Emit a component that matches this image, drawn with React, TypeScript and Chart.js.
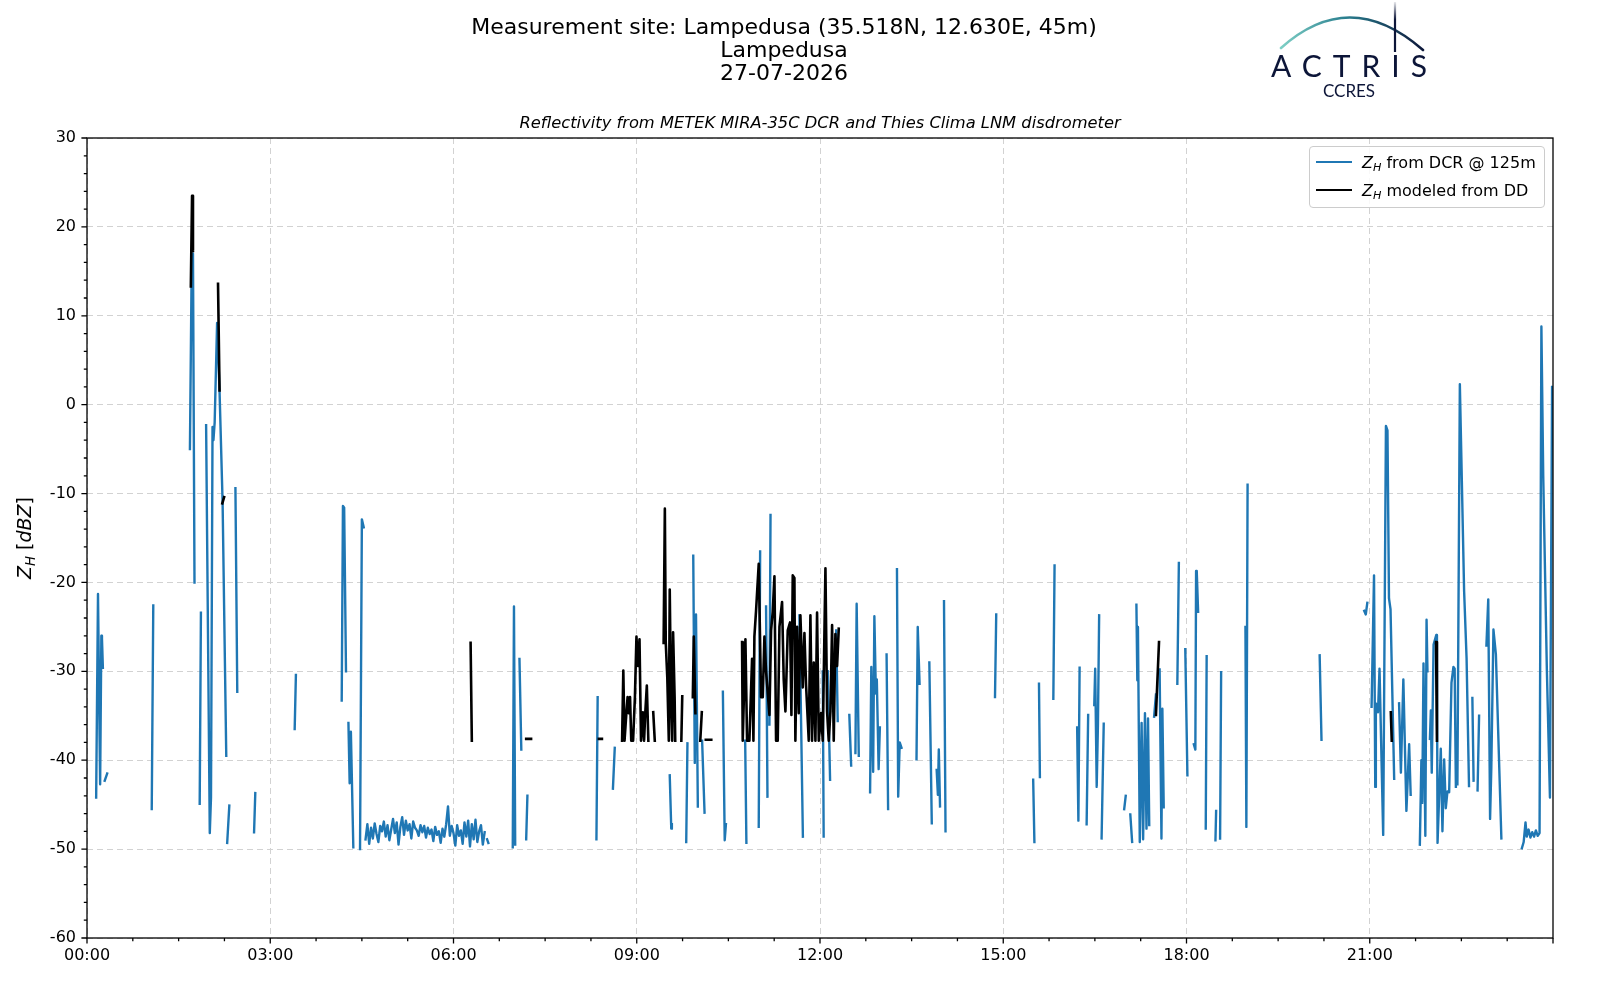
import React, { useEffect, useRef } from "react";
import { Chart, registerables } from "chart.js";

Chart.register(...registerables);

// ---------------- text ----------------
const titleLines = ["Measurement site: Lampedusa (35.518N, 12.630E, 45m)", "Lampedusa", "27-07-2026"];
const subtitle = "Reflectivity from METEK MIRA-35C DCR and Thies Clima LNM disdrometer";
const legendLabels = ["from DCR @ 125m", "modeled from DD"];
const seriesColors = ["#1f77b4", "#000000"];

// ---------------- axes ----------------
const xMin = 0;
const xMax = 24;
const xMajorStep = 3;
const xMinorStep = 0.75;
const yMin = -60;
const yMax = 30;
const yMajorStep = 10;
const yMinorStep = 2;

// ---------------- data: [hour of day, Z_H dBZ], null = gap ----------------
type Sample = [number, number] | null;

const dcrSamples: Sample[] = [
  [0.15, -44.2], [0.18, -21.3], [0.215, -42.7], [0.235, -26], [0.245, -26.3], [0.26, -29.6], null,
  [0.29, -42.3], [0.33, -41.5], null,
  [1.06, -45.5], [1.085, -22.6], null,
  [1.685, -5], [1.71, 13], [1.735, 17], [1.76, -20], null,
  [1.845, -44.9], [1.865, -23.4], null,
  [1.95, -2.3], [2.01, -48.2], [2.03, -44.2], [2.055, -2.5], [2.07, -4], [2.09, -2], [2.13, 9.2], [2.17, 1.5], [2.22, -11], [2.28, -39.5], null,
  [2.295, -49.3], [2.33, -45.1], null,
  [2.43, -9.4], [2.46, -32.3], null,
  [2.735, -48.1], [2.755, -43.7], null,
  [3.4, -36.5], [3.42, -30.4], null,
  [4.17, -33.3], [4.19, -11.4], [4.21, -11.6], [4.24, -30], null,
  [4.28, -35.8], [4.3, -42.6], [4.32, -36.8], [4.36, -49.8], null,
  [4.47, -50], [4.5, -12.9], [4.53, -13.8], null,
  [4.56, -48.9], [4.59, -47.2], [4.62, -49.4], [4.65, -47.6], [4.68, -48.8], [4.71, -47.1], [4.74, -48.3], [4.77, -49.2],
  [4.8, -47.4], [4.83, -48.0], [4.86, -46.9], [4.89, -48.6], [4.92, -47.3], [4.95, -49.0], [4.98, -47.8], [5.01, -46.6],
  [5.04, -48.2], [5.07, -47.0], [5.1, -49.5], [5.13, -47.5], [5.16, -46.4], [5.19, -48.4], [5.22, -46.8], [5.25, -47.9],
  [5.28, -47.2], [5.31, -48.8], [5.34, -46.9], [5.37, -47.6], [5.4, -47.9], [5.43, -48.5], [5.46, -47.3], [5.49, -48.1],
  [5.52, -47.4], [5.55, -48.7], [5.58, -47.6], [5.61, -48.3], [5.64, -47.8], [5.67, -49.1], [5.7, -47.5], [5.73, -48.4],
  [5.76, -48.0], [5.79, -49.3], [5.82, -47.7], [5.85, -48.6], [5.88, -47.2], [5.91, -45.2], [5.94, -48.5], [5.97, -47.4],
  [6.0, -48.2], [6.03, -49.6], [6.06, -47.3], [6.09, -48.5], [6.12, -47.9], [6.15, -49.4], [6.18, -47.0], [6.21, -48.6],
  [6.24, -46.8], [6.27, -49.7], [6.3, -47.2], [6.33, -48.9], [6.36, -46.7], [6.39, -49.2], [6.42, -48.0], [6.45, -47.3],
  [6.48, -49.5], [6.51, -48.1], null,
  [6.55, -48.9], [6.57, -49.3], null,
  [6.97, -49.8], [6.99, -22.7], [7.01, -49.5], null,
  [7.08, -28.6], [7.11, -38.8], null,
  [7.19, -48.9], [7.21, -44], null,
  [8.34, -48.9], [8.36, -32.9], null,
  [8.61, -43.2], [8.64, -38.6], null,
  [9.54, -41.7], [9.565, -47.7], [9.575, -47.2], null,
  [9.81, -49.2], [9.83, -38.1], null,
  [9.925, -17], [9.95, -40.3], [9.97, -23.6], [10.0, -45.2], null,
  [10.07, -37.8], [10.11, -45.9], null,
  [10.41, -32.3], [10.44, -49], [10.46, -47.2], null,
  [10.775, -37.8], [10.795, -49.3], null,
  [10.997, -47.5], [11.02, -16.5], null,
  [11.117, -22.7], [11.14, -44.1], null,
  [11.172, -36], [11.19, -12.4], null,
  [11.663, -23.7], [11.72, -48.6], null,
  [12.045, -30], [12.06, -48.6], null,
  [12.127, -30], [12.165, -42.2], null,
  [12.265, -25.4], [12.29, -35.6], null,
  [12.48, -34.9], [12.51, -40.6], null,
  [12.58, -39.2], [12.6, -22.4], [12.635, -39.5], null,
  [12.82, -43.6], [12.84, -29.5], [12.87, -41.3], [12.89, -23.8], [12.915, -32.5], [12.93, -30.9], [12.96, -41], [12.98, -36.3], null,
  [13.09, -28.1], [13.115, -45.5], null,
  [13.26, -18.5], [13.28, -44.1], [13.305, -38], [13.335, -38.6], null,
  [13.58, -39.9], [13.6, -25], [13.63, -31.4], null,
  [13.79, -29], [13.83, -47.1], null,
  [13.91, -41.1], [13.93, -43.9], [13.945, -38.8], [13.965, -45.2], null,
  [14.03, -22.1], [14.055, -48], null,
  [14.865, -32.9], [14.885, -23.6], null,
  [15.49, -42.2], [15.51, -49.2], null,
  [15.585, -31.4], [15.6, -41.9], null,
  [15.82, -33.1], [15.84, -18.1], null,
  [16.21, -36.3], [16.23, -46.8], [16.25, -29.6], null,
  [16.365, -47.2], [16.39, -34.9], null,
  [16.49, -33.8], [16.505, -29.7], [16.53, -43], [16.55, -36], [16.57, -23.7], null,
  [16.61, -48.8], [16.645, -35.9], null,
  [16.98, -45.5], [17.005, -44], null,
  [17.08, -46.1], [17.11, -49.2], null,
  [17.18, -22.5], [17.195, -31], [17.205, -25], [17.235, -49.2], [17.265, -35.8], [17.29, -48.9], [17.32, -34.7], [17.345, -47.7], [17.37, -35.3], [17.39, -47.3], null,
  [17.47, -35.1], [17.5, -32.6], null,
  [17.56, -29.8], [17.59, -48.8], [17.605, -34.2], [17.627, -45.3], null,
  [17.85, -31.4], [17.875, -17.8], null,
  [17.98, -27.5], [18.015, -41.7], null,
  [18.12, -38.2], [18.145, -38.8], [18.157, -18.7], [18.168, -18.8], [18.19, -23.3], null,
  [18.315, -47.7], [18.33, -28.3], null,
  [18.474, -49], [18.485, -45.7], null,
  [18.55, -48.8], [18.567, -30.1], null,
  [18.965, -25], [18.98, -47.5], [19.0, -9], null,
  [20.18, -28.2], [20.21, -37.7], null,
  [20.91, -23.2], [20.935, -23.6], [20.96, -22.3], null,
  [21.03, -34], [21.07, -19.2], [21.09, -43], [21.1, -33.6], [21.135, -34.6], [21.16, -29.7], [21.22, -48.4], [21.265, -2.4], [21.29, -2.9], [21.315, -21.8], [21.34, -23], [21.4, -42.1], null,
  [21.48, -33.6], [21.51, -41.4], [21.55, -30.9], [21.6, -45.7], [21.645, -38.2], [21.67, -43.9], null,
  [21.82, -49.5], [21.845, -40], [21.86, -44.8], [21.88, -29.1], [21.91, -48.5], [21.93, -24.2], [21.945, -30], null,
  [21.985, -37.6], [22.0, -34.4], [22.015, -41.4], [22.045, -27], [22.09, -25.9], [22.1, -28.7], [22.11, -49.3], [22.163, -38.7], [22.19, -48],
  [22.218, -39.9], [22.245, -45.4], [22.272, -43.5], [22.3, -43.6], [22.338, -31.3], [22.37, -29.5], [22.39, -29.7], [22.41, -43], null,
  [22.435, -42.7], [22.475, 2.3], [22.545, -21], [22.585, -28.5], [22.625, -42.9], null,
  [22.68, -33], [22.7, -42.3], null,
  [22.765, -43.4], [22.79, -35], null,
  [22.91, -27.1], [22.94, -21.9], [22.97, -46.6], [22.99, -40.9], [23.025, -25.3], [23.065, -28.1], [23.155, -48.8], null,
  [23.49, -49.9], [23.52, -49.2], [23.55, -47], [23.57, -48.6], [23.6, -47.8], [23.63, -48.7], [23.66, -48.1], [23.69, -48.6],
  [23.72, -47.9], [23.75, -48.5], [23.78, -48.2], [23.81, 8.8], [23.84, -8], [23.9, -30], [23.95, -44.2], [23.985, 2],
];

const ddSamples: Sample[] = [
  [1.7, 13.3], [1.72, 23.5], [1.735, 17.3], null,
  [2.145, 13.6], [2.17, 1.6], null,
  [2.215, -11.1], [2.245, -10.4], null,
  [6.28, -26.8], [6.3, -37.8], null,
  [7.19, -37.6], [7.27, -37.6], null,
  [8.38, -37.6], [8.43, -37.6], null,
  [8.76, -37.8], [8.78, -29.9], [8.8, -37.8], [8.83, -34.7], [8.85, -32.9], [8.87, -34.7], [8.89, -32.9], [8.91, -37.8], [8.94, -37.8],
  [8.97, -32.9], [8.995, -26.1], [9.02, -29.4], [9.045, -26.4], [9.07, -37.8], [9.1, -34.6], [9.12, -37.8], [9.14, -34.6], [9.165, -31.6], [9.19, -37.8], null,
  [9.27, -34.6], [9.295, -37.8], null,
  [9.44, -26.8], [9.46, -11.7], [9.475, -26.8], [9.5, -30.7], [9.525, -37.8], [9.54, -20.8], [9.56, -32.7], [9.58, -37.8], [9.595, -25.6], [9.62, -32.9], [9.63, -37.8], null,
  [9.73, -37.8], [9.745, -32.8], null,
  [9.918, -32.9], [9.934, -26.1], [9.96, -34.7], null,
  [10.04, -37.8], [10.065, -34.6], null,
  [10.13, -37.7], [10.22, -37.7], null,
  [10.724, -26.7], [10.735, -37.8], [10.779, -26.4], [10.806, -37.8], [10.844, -37.8], [10.888, -28.6], [10.91, -37.8], [10.926, -26.1],
  [10.953, -23.2], [10.997, -17.9], [11.035, -32.9], [11.063, -32.9], [11.09, -26.1], [11.117, -30], [11.172, -34.9], [11.199, -25.4],
  [11.226, -23.3], [11.254, -19.3], [11.281, -37.8], [11.308, -37.8], [11.336, -25], [11.379, -22.2], [11.406, -30.9], [11.434, -34.5],
  [11.472, -25.4], [11.51, -24.5], [11.532, -34.9], [11.554, -19.2], [11.581, -19.5], [11.597, -37.8], [11.625, -25], [11.652, -34.7],
  [11.679, -23.7], [11.718, -31.8], [11.745, -25.7], [11.772, -31.6], [11.816, -37.8], [11.843, -23.7], [11.87, -37.8], [11.898, -29],
  [11.925, -37.8], [11.952, -23.4], [11.98, -37.8], [12.018, -34.7], [12.045, -37.8], [12.089, -18.4], [12.116, -34.5], [12.143, -37.8],
  [12.171, -34.5], [12.198, -24.8], [12.225, -37.8], [12.252, -25.8], [12.28, -29.4], [12.307, -25.2], null,
  [17.5, -34.9], [17.55, -26.7], null,
  [21.345, -34.6], [21.36, -37.8], null,
  [22.085, -26.7], [22.1, -37.8],
];

// ---------------- helpers ----------------
function toPoints(samples: Sample[]) {
  const pts: { x: number; y: number | null }[] = [];
  let last = 0;
  for (const s of samples) {
    if (s === null) {
      pts.push({ x: last, y: null });
    } else {
      last = s[0];
      pts.push({ x: s[0], y: s[1] });
    }
  }
  return pts;
}

function hourLabel(h: number) {
  const hh = Math.floor(h);
  return `${hh < 10 ? "0" : ""}${hh}:00`;
}

const FONT = "'DejaVu Sans', sans-serif";
const CANVAS_W = 1600;
const CANVAS_H = 1000;
const AREA = { left: 87, right: 1553, top: 138, bottom: 938 };

const frameAndTicksPlugin = {
  id: "frameAndTicks",
  afterDraw(chart: any) {
    const { ctx, chartArea: a, scales } = chart;
    ctx.save();
    ctx.strokeStyle = "#000";
    ctx.lineWidth = 1.3;
    ctx.lineCap = "butt";
    ctx.beginPath();
    for (let v = yMin; v <= yMax + 1e-9; v += yMinorStep) {
      const y = scales.y.getPixelForValue(v);
      const major = Math.abs(v % yMajorStep) < 1e-9;
      const len = major ? 5.6 : 3.2;
      ctx.moveTo(a.left - len, y);
      ctx.lineTo(a.left, y);
    }
    for (let h = xMin; h <= xMax + 1e-9; h += xMinorStep) {
      const x = scales.x.getPixelForValue(h);
      const major = Math.abs(h % xMajorStep) < 1e-9;
      const len = major ? 5.6 : 3.2;
      ctx.moveTo(x, a.bottom);
      ctx.lineTo(x, a.bottom + len);
    }
    ctx.stroke();
    ctx.strokeRect(a.left, a.top, a.right - a.left, a.bottom - a.top);
    ctx.restore();
  },
};

function ZH() {
  return (
    <>
      <i>Z</i>
      <span style={{ fontStyle: "italic", fontSize: "0.7em", position: "relative", top: "0.3em" }}>H</span>
    </>
  );
}

export default function App() {
  const canvasRef = useRef<HTMLCanvasElement | null>(null);

  useEffect(() => {
    if (!canvasRef.current) return;
    const chart = new Chart(canvasRef.current, {
      type: "line",
      data: {
        datasets: [
          {
            label: legendLabels[1],
            data: toPoints(ddSamples) as any,
            borderColor: seriesColors[1],
            backgroundColor: seriesColors[1],
            borderWidth: 2.6,
            pointRadius: 0,
            spanGaps: false,
            tension: 0,
            borderJoinStyle: "round",
            borderCapStyle: "square",
            order: 0,
          },
          {
            label: legendLabels[0],
            data: toPoints(dcrSamples) as any,
            borderColor: seriesColors[0],
            backgroundColor: seriesColors[0],
            borderWidth: 2.4,
            pointRadius: 0,
            spanGaps: false,
            tension: 0,
            borderJoinStyle: "round",
            borderCapStyle: "square",
            order: 1,
          },
        ],
      },
      options: {
        animation: false,
        responsive: false,
        maintainAspectRatio: false,
        devicePixelRatio: 1,
        events: [],
        layout: { padding: { top: AREA.top, right: CANVAS_W - AREA.right, left: 0, bottom: 0 } },
        plugins: {
          legend: { display: false },
          tooltip: { enabled: false },
          title: { display: false },
        },
        scales: {
          x: {
            type: "linear",
            min: xMin,
            max: xMax,
            afterFit: (s: any) => {
              s.height = CANVAS_H - AREA.bottom;
            },
            afterBuildTicks: (s: any) => {
              s.ticks = s.ticks.filter((t: any) => t.value < xMax);
            },
            ticks: {
              stepSize: xMajorStep,
              autoSkip: false,
              maxRotation: 0,
              padding: 8,
              color: "#000",
              font: { family: FONT, size: 16 },
              callback: (v: any) => hourLabel(Number(v)),
            },
            grid: { drawTicks: false, color: "#d2d2d2", lineWidth: 1 },
            border: { display: false, dash: [6, 4] },
          },
          y: {
            type: "linear",
            min: yMin,
            max: yMax,
            afterFit: (s: any) => {
              s.width = AREA.left;
            },
            ticks: {
              stepSize: yMajorStep,
              padding: 11,
              color: "#000",
              font: { family: FONT, size: 16 },
            },
            grid: { drawTicks: false, color: "#d2d2d2", lineWidth: 1 },
            border: { display: false, dash: [6, 4] },
          },
        },
      },
      plugins: [frameAndTicksPlugin],
    });
    return () => chart.destroy();
  }, []);

  return (
    <div style={{ position: "absolute", left: 0, top: 0, width: CANVAS_W, height: CANVAS_H, background: "#fff", fontFamily: FONT, color: "#000" }}>
      <canvas ref={canvasRef} width={CANVAS_W} height={CANVAS_H} style={{ position: "absolute", left: 0, top: 0, width: CANVAS_W, height: CANVAS_H }} />

      {/* main title */}
      <div style={{ position: "absolute", left: 0, top: 16, width: 1568, textAlign: "center", fontSize: 22, lineHeight: "22.8px" }}>
        {titleLines.map((t) => (
          <div key={t}>{t}</div>
        ))}
      </div>

      {/* axes title */}
      <div style={{ position: "absolute", left: AREA.left, width: AREA.right - AREA.left, top: 112, textAlign: "center", fontSize: 16.3, fontStyle: "italic", lineHeight: "22px" }}>
        {subtitle}
      </div>

      {/* y label */}
      <div style={{ position: "absolute", left: 24, top: 538, transform: "translate(-50%, -50%) rotate(-90deg)", whiteSpace: "nowrap", fontSize: 19 }}>
        <ZH /> [<i>dBZ</i>]
      </div>

      {/* legend */}
      <div style={{ position: "absolute", left: 1309, top: 146, width: 236, height: 62, boxSizing: "border-box", border: "1px solid #cccccc", borderRadius: 4, background: "rgba(255,255,255,0.85)" }}>
        {legendLabels.map((lab, i) => (
          <div key={lab} style={{ position: "absolute", left: 0, top: 3 + i * 28, height: 24, display: "flex", alignItems: "center", whiteSpace: "nowrap", fontSize: 16 }}>
            <span style={{ display: "inline-block", marginLeft: 6, width: 36, height: 0, borderTop: `2.4px solid ${seriesColors[i]}` }} />
            <span style={{ marginLeft: 10 }}>
              <ZH /> {lab}
            </span>
          </div>
        ))}
      </div>

      {/* logo */}
      <svg style={{ position: "absolute", left: 1250, top: 0 }} width={200} height={105} viewBox="1250 0 200 105">
        <defs>
          <linearGradient id="arcGrad" x1="1280" y1="0" x2="1425" y2="0" gradientUnits="userSpaceOnUse">
            <stop offset="0" stopColor="#7fd0c6" />
            <stop offset="0.45" stopColor="#2a7f8f" />
            <stop offset="1" stopColor="#0c1538" />
          </linearGradient>
          <linearGradient id="barGrad" x1="0" y1="2" x2="0" y2="52" gradientUnits="userSpaceOnUse">
            <stop offset="0" stopColor="#0c1538" stopOpacity="0.1" />
            <stop offset="0.35" stopColor="#0c1538" stopOpacity="1" />
            <stop offset="1" stopColor="#0c1538" />
          </linearGradient>
        </defs>
        <path d="M 1281 48 Q 1350 -14 1423 50" fill="none" stroke="url(#arcGrad)" strokeWidth={2.6} strokeLinecap="round" />
        <line x1={1395} y1={2} x2={1395} y2={52} stroke="url(#barGrad)" strokeWidth={2.2} />
        <text x={1271} y={77} fontFamily="Lato, 'DejaVu Sans', sans-serif" fontSize={30} fill="#0c1538" textLength={156} lengthAdjust="spacing">
          ACTRIS
        </text>
        <text x={1323} y={97} fontFamily="Lato, 'DejaVu Sans', sans-serif" fontSize={17} fill="#0c1538" textLength={52} lengthAdjust="spacing">
          CCRES
        </text>
      </svg>
    </div>
  );
}
